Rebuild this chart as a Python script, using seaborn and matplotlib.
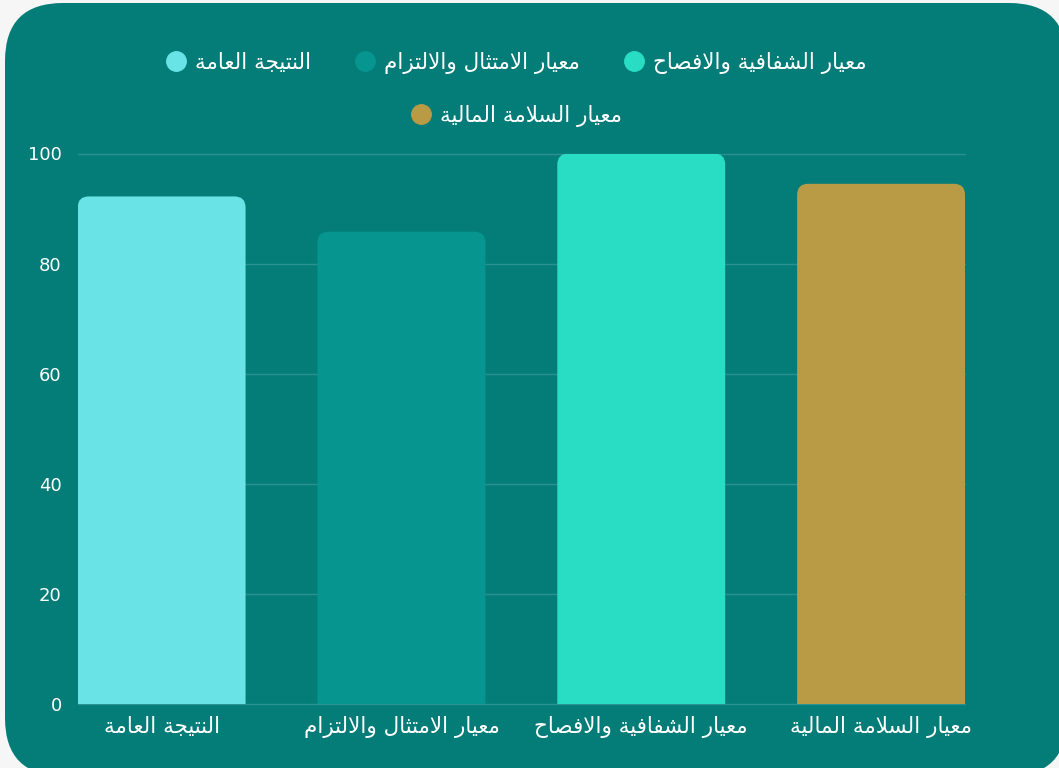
import matplotlib
matplotlib.use("Agg")
import matplotlib.pyplot as plt
import seaborn as sns
import pandas as pd
from matplotlib.patches import FancyBboxPatch
from matplotlib.lines import Line2D

# ---------------- data ----------------
categories = ["النتيجة العامة", "معيار الامتثال والالتزام", "معيار الشفافية والافصاح", "معيار السلامة المالية"]
values = [92.2, 85.8, 100, 94.5]
colors = ["#6AE3E6", "#06958F", "#29DDC5", "#B99A45"]
yticks = [0, 20, 40, 60, 80, 100]

# ---------------- Arabic shaping (presentation forms + RTL) ----------------
ALEF, LAM = "\u0627", "\u0644"
FORMS = {
    "\u0627": ("\uFE8D", "\uFE8E", None, None),
    "\u062A": ("\uFE95", "\uFE96", "\uFE97", "\uFE98"),
    "\u062B": ("\uFE99", "\uFE9A", "\uFE9B", "\uFE9C"),
    "\u062C": ("\uFE9D", "\uFE9E", "\uFE9F", "\uFEA0"),
    "\u062D": ("\uFEA1", "\uFEA2", "\uFEA3", "\uFEA4"),
    "\u0631": ("\uFEAD", "\uFEAE", None, None),
    "\u0632": ("\uFEAF", "\uFEB0", None, None),
    "\u0633": ("\uFEB1", "\uFEB2", "\uFEB3", "\uFEB4"),
    "\u0634": ("\uFEB5", "\uFEB6", "\uFEB7", "\uFEB8"),
    "\u0635": ("\uFEB9", "\uFEBA", "\uFEBB", "\uFEBC"),
    "\u0639": ("\uFEC9", "\uFECA", "\uFECB", "\uFECC"),
    "\u0641": ("\uFED1", "\uFED2", "\uFED3", "\uFED4"),
    "\u0644": ("\uFEDD", "\uFEDE", "\uFEDF", "\uFEE0"),
    "\u0645": ("\uFEE1", "\uFEE2", "\uFEE3", "\uFEE4"),
    "\u0646": ("\uFEE5", "\uFEE6", "\uFEE7", "\uFEE8"),
    "\u0629": ("\uFE93", "\uFE94", None, None),
    "\u0648": ("\uFEED", "\uFEEE", None, None),
    "\u064A": ("\uFEF1", "\uFEF2", "\uFEF3", "\uFEF4"),
    "LA": ("\uFEFB", "\uFEFC", None, None),
}


def shape(text):
    words = []
    for word in text.split(" "):
        units, i = [], 0
        while i < len(word):
            if word[i] == LAM and i + 1 < len(word) and word[i + 1] == ALEF:
                units.append("LA")
                i += 2
            else:
                units.append(word[i])
                i += 1
        glyphs = []
        for k, u in enumerate(units):
            f = FORMS.get(u)
            if f is None:
                glyphs.append(u)
                continue
            prev = FORMS.get(units[k - 1]) if k > 0 else None
            nxt = FORMS.get(units[k + 1]) if k + 1 < len(units) else None
            jp = prev is not None and prev[2] is not None
            jn = f[2] is not None and nxt is not None
            if jp and jn:
                g = f[3]
            elif jp:
                g = f[1]
            elif jn:
                g = f[2]
            else:
                g = f[0]
            glyphs.append(g)
        words.append("".join(glyphs))
    return " ".join(words)[::-1]


# ---------------- figure ----------------
sns.set_theme(style="white")
plt.rcParams["font.family"] = ["DejaVu Sans"]

W, H = 1059, 768
fig = plt.figure(figsize=(W / 100, H / 100), dpi=100)
fig.patch.set_facecolor("#F6F6F6")

BG = "#047C78"
bgpatch = FancyBboxPatch((0.05, -0.08), 10.62, 7.73,
                         boxstyle="round,pad=0,rounding_size=0.58",
                         transform=fig.dpi_scale_trans, facecolor=BG,
                         edgecolor="none", zorder=-10)
fig.patches.append(bgpatch)

ax_l, ax_r, ax_t, ax_b = 77.7, 965.0, 153.5, 704.0
ax = fig.add_axes([ax_l / W, 1 - ax_b / H, (ax_r - ax_l) / W, (ax_b - ax_t) / H])
ax.set_facecolor("none")
ax.set_zorder(1)

df = pd.DataFrame({"category": categories, "value": values})
sns.barplot(data=df, x="category", y="value", hue="category", order=categories,
            hue_order=categories, palette=colors, width=0.7, legend=False,
            saturation=1, ax=ax, zorder=2)

ax.set_xlim(-0.35, 3.35)
ax.set_ylim(0, 100)

# rounded bar tops
p0 = ax.transData.transform((0, 0))
p1 = ax.transData.transform((1, 1))
px_per_x = p1[0] - p0[0]
px_per_y = p1[1] - p0[1]
r_px = 11
aspect = px_per_x / px_per_y
for p in list(ax.patches):
    x, y = p.get_x(), p.get_y()
    w, h = p.get_width(), p.get_height()
    ext = 5
    fb = FancyBboxPatch((x, y - ext), w, h + ext,
                        boxstyle=f"round,pad=0,rounding_size={r_px / px_per_x}",
                        mutation_aspect=aspect, facecolor=p.get_facecolor(),
                        edgecolor="none", zorder=2)
    ax.add_patch(fb)
    p.set_visible(False)

ax.set_yticks(yticks)
ax.set_yticklabels([str(t) for t in yticks])
ax.set_xticks(range(len(categories)))
ax.set_xticklabels([shape(c) for c in categories])
ax.yaxis.grid(True, color="#2A928E", linewidth=1.0, zorder=0)
ax.set_axisbelow(True)
for gl in ax.get_ygridlines():
    gl.set_clip_on(False)
ax.tick_params(axis="y", length=0, pad=11.5, labelsize=13, labelcolor="white")
ax.tick_params(axis="x", length=0, pad=9, labelsize=15.5, labelcolor="white")
ax.set_xlabel("")
ax.set_ylabel("")
for s in ax.spines.values():
    s.set_visible(False)

# legend
def handle(c):
    return Line2D([], [], marker="o", linestyle="none", markersize=14,
                  markerfacecolor=c, markeredgecolor=c)

leg1 = fig.legend([handle(c) for c in colors[:3]], [shape(c) for c in categories[:3]],
                  loc="center", bbox_to_anchor=(516 / W, 1 - 63 / H), ncol=3,
                  frameon=False, fontsize=15.5, labelcolor="white",
                  handletextpad=0.4, columnspacing=2.0, handlelength=1.0)
leg2 = fig.legend([handle(colors[3])], [shape(categories[3])],
                  loc="center", bbox_to_anchor=(516 / W, 1 - 116 / H), ncol=1,
                  frameon=False, fontsize=15.5, labelcolor="white",
                  handletextpad=0.4, handlelength=1.0)

fig.savefig("out.png", dpi=100, facecolor=fig.get_facecolor())
